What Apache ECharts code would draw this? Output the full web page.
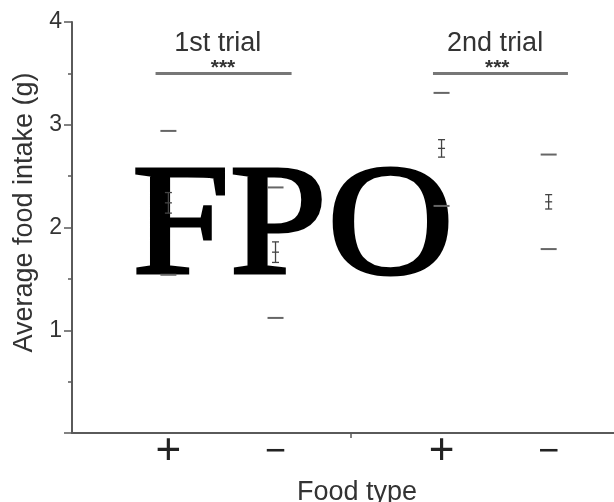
<!DOCTYPE html>
<html><head><meta charset="utf-8">
<script src="https://cdn.jsdelivr.net/npm/echarts@6/dist/echarts.min.js"></script>
<style>html,body{margin:0;padding:0;background:#fff}#c{width:614px;height:502px}</style>
</head><body><div id="c"></div>
<script>
// Food type categories and their positions on the x scale
const categories = ['+', '\u2212', '+', '\u2212'];
const positions = [1, 2, 3.55, 4.55];
// Average food intake (g): mean, standard error, upper and lower dash
const means = [2.24, 1.76, 2.77, 2.25];
const se = [0.10, 0.10, 0.085, 0.07];
const upper = [2.94, 2.39, 3.31, 2.71];
const lower = [1.54, 1.12, 2.21, 1.79];
// Trial annotations
const trialLabels = ['1st trial', '2nd trial'];
const trialCenters = [1.46, 4.05];
const starCenters = [1.51, 4.07];
const sigStart = [0.88, 3.47];
const sigEnd = [2.15, 4.73];
const sigLevel = [3.5, 3.5];
const sigMarks = ['***', '***'];
const middleTick = [2.70];
const yTickLabels = ['', '1', '2', '3', '4'];

const TXT = '#333';
const AX = '#5a5a5a';
const FONT = '"Liberation Sans", Arial, sans-serif';

const pointData = positions.map((p, i) => [p, means[i], se[i], upper[i], lower[i]]);
const sigData = sigStart.map((s, i) => [s, sigEnd[i], sigLevel[i], trialCenters[i], starCenters[i], i]);

const chart = echarts.init(document.getElementById('c'));
chart.setOption({
  animation: false,
  backgroundColor: '#fff',
  grid: { left: 72, right: 0, top: 22, bottom: 69, containLabel: false, outerBoundsMode: 'none' },
  xAxis: {
    type: 'value', min: 0.1, max: 5.16,
    name: 'Food type', nameLocation: 'middle', nameGap: 37,
    nameTextStyle: { fontSize: 27, color: TXT, fontFamily: FONT, padding: [0, 0, 0, 28] },
    axisLine: { show: true, lineStyle: { color: AX, width: 2 } },
    axisTick: { show: true, customValues: middleTick, length: 5, lineStyle: { color: AX, width: 1.5 } },
    axisLabel: {
      customValues: positions, margin: 4,
      formatter: v => {
        const i = positions.findIndex(p => Math.abs(p - v) < 1e-6);
        if (i < 0) return '';
        return categories[i] === '+' ? '{p|+}' : '{m|\u2212}';
      },
      rich: {
        p: { fontSize: 44, color: '#222', fontFamily: FONT, lineHeight: 30 },
        m: { fontSize: 36, color: '#222', fontFamily: FONT, lineHeight: 30 }
      }
    },
    splitLine: { show: false }
  },
  yAxis: {
    type: 'value', min: 0, max: 4, interval: 1,
    name: 'Average food intake (g)', nameLocation: 'middle', nameRotate: 90, nameGap: 34,
    nameTextStyle: { fontSize: 27, color: TXT, fontFamily: FONT, padding: [0, 0, 0, 30] },
    axisLine: { show: true, lineStyle: { color: AX, width: 2 } },
    axisTick: { show: true, length: 8, lineStyle: { color: AX, width: 1.5 } },
    minorTick: { show: true, splitNumber: 2, length: 4, lineStyle: { color: AX, width: 1.5 } },
    axisLabel: { fontSize: 23, color: TXT, fontFamily: FONT, margin: 10,
      formatter: v => yTickLabels[Math.round(v)] },
    splitLine: { show: false }
  },
  graphic: [{
    type: 'text', x: 132, y: 231, scaleX: 1.02, scaleY: 0.926, z: 1,
    style: { text: 'FPO', font: '172px "Liberation Serif", "Times New Roman", serif', fill: '#000',
      stroke: '#000', lineWidth: 3.5, verticalAlign: 'middle', align: 'left' }
  }],
  series: [{
    type: 'custom', z: 10, clip: false,
    data: pointData,
    renderItem: (params, api) => {
      const x = api.value(0), m = api.value(1), s = api.value(2), hi = api.value(3), lo = api.value(4);
      const pm = api.coord([x, m]), pt = api.coord([x, m + s]), pb = api.coord([x, m - s]);
      const ph = api.coord([x, hi]), pl = api.coord([x, lo]);
      const cx = pm[0];
      const dash = { stroke: '#666', lineWidth: 2 };
      const bar = { stroke: '#444', lineWidth: 1.3 };
      return { type: 'group', children: [
        { type: 'line', shape: { x1: cx - 8, y1: ph[1], x2: cx + 8, y2: ph[1] }, style: dash },
        { type: 'line', shape: { x1: cx - 8, y1: pl[1], x2: cx + 8, y2: pl[1] }, style: dash },
        { type: 'line', shape: { x1: cx, y1: pt[1], x2: cx, y2: pb[1] }, style: bar },
        { type: 'line', shape: { x1: cx - 3.5, y1: pt[1], x2: cx + 3.5, y2: pt[1] }, style: bar },
        { type: 'line', shape: { x1: cx - 3.5, y1: pb[1], x2: cx + 3.5, y2: pb[1] }, style: bar },
        { type: 'line', shape: { x1: cx - 3.5, y1: pm[1], x2: cx + 3.5, y2: pm[1] }, style: bar }
      ]};
    }
  }, {
    type: 'custom', z: 10, clip: false,
    data: sigData,
    renderItem: (params, api) => {
      const s = api.value(0), e = api.value(1), lv = api.value(2), c = api.value(3), sc = api.value(4);
      const i = params.dataIndex;
      const p1 = api.coord([s, lv]), p2 = api.coord([e, lv]);
      const pc = api.coord([c, lv]), ps = api.coord([sc, lv]);
      return { type: 'group', children: [
        { type: 'line', shape: { x1: p1[0], y1: p1[1], x2: p2[0], y2: p2[1] }, style: { stroke: '#777', lineWidth: 3 } },
        { type: 'text', x: pc[0], y: pc[1] - 30, style: { text: trialLabels[i], font: '27px ' + FONT, fill: TXT, align: 'center', verticalAlign: 'middle' } },
        { type: 'text', x: ps[0], y: ps[1] - 5, style: { text: sigMarks[i], font: 'bold 21px ' + FONT, fill: '#333', align: 'center', verticalAlign: 'middle' } }
      ]};
    }
  }]
});
</script></body></html>
